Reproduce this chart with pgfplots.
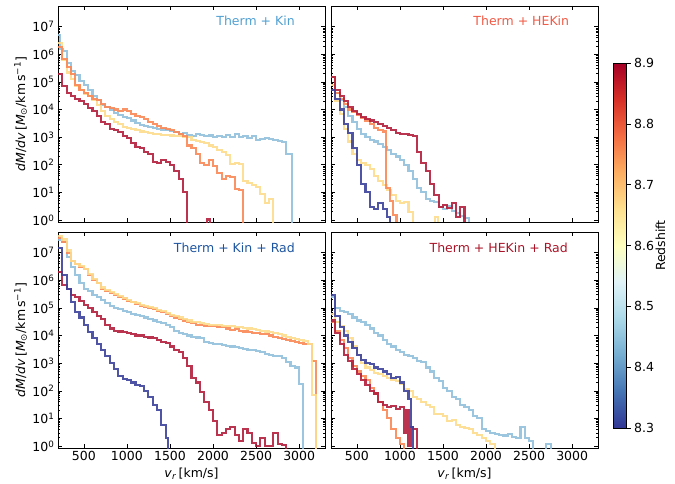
\documentclass[border=0pt]{standalone}
\usepackage{fontspec}
\setmainfont{DejaVu Sans}
\usepackage{pgfplots}
\pgfplotsset{compat=1.18}

\definecolor{zA}{RGB}{60,65,155}
\definecolor{zB}{RGB}{145,191,219}
\definecolor{zC}{RGB}{254,220,140}
\definecolor{zD}{RGB}{250,135,85}
\definecolor{zE}{RGB}{180,30,60}
\definecolor{tA}{RGB}{80,160,210}
\definecolor{tB}{RGB}{240,90,70}
\definecolor{tC}{RGB}{30,85,160}
\definecolor{tD}{RGB}{170,20,40}

\newcommand\fs{\fontsize{12.5}{15}\selectfont}

\pgfplotsset{colormap={rdylbur}{rgb255=(49,54,149) rgb255=(69,117,180) rgb255=(116,173,209)
    rgb255=(171,217,233) rgb255=(224,243,248) rgb255=(255,255,191) rgb255=(254,224,144)
    rgb255=(253,174,97) rgb255=(244,109,67) rgb255=(215,48,39) rgb255=(165,0,38)}}
\pgfplotsset{
  scale only axis, axis line style={line width=0.9pt},
  major tick length=4pt, minor tick length=2.2pt,
  tick style={black, line width=0.6pt},
  tick label style={font=\fs}, label style={font=\fs},
  /pgf/number format/1000 sep={},
  /pgf/number format/assume math mode=true,
  hist/.style={every axis plot post/.append style={const plot, line width=2.1pt, opacity=0.9}},
}

\begin{document}
\begin{tikzpicture}
\useasboundingbox (0,0) rectangle (675pt,483pt);

% top left
\begin{axis}[hist, at={(58pt,261pt)}, anchor=south west, width=267pt, height=216pt,
  xmin=200, xmax=3300, ymode=log, ymin=0.85, ymax=5.6e7,
  xtick={500,1000,1500,2000,2500,3000}, xticklabels={},
  ytick={1,10,100,1000,10000,100000,1000000,10000000},
  yticklabel={10\textsuperscript{\pgfmathparse{int(round(\tick/2.302585))}\pgfmathresult}},
  tick align=inside, xtick pos=both, ytick pos=both,
  ylabel={\textit{dM}/\textit{dv}\,[\textit{M}\textsubscript{⊙}/km\,s\textsuperscript{−1}]},
  ylabel style={at={(axis description cs:-0.14,0.5)}, anchor=center}]
\addplot[zB] coordinates {(200,5e6)(220,1.5e6)(260,1.3e6)(300,5e5)(350,2.5e5)(400,1.8e5)(450,1.1e5)(500,8e4)(550,5e4)(600,3e4)(650,2.2e4)(700,1.5e4)(750,1.2e4)(800,1e4)(850,7.5e3)(900,6.5e3)(950,5.5e3)(1000,4.8e3)(1050,4e3)(1100,3.3e3)(1150,2.8e3)(1200,2.5e3)(1250,2.3e3)(1300,2.1e3)(1350,2e3)(1400,1.9e3)(1450,1.8e3)(1500,1.7e3)(1550,1.5e3)(1600,1.3e3)(1650,1.4e3)(1700,1.2e3)(1750,1.1e3)(1800,1.3e3)(1850,1.2e3)(1900,1.1e3)(1950,1.15e3)(2000,1.05e3)(2050,1.1e3)(2100,1e3)(2150,1.2e3)(2200,1.05e3)(2250,1.3e3)(2300,1e3)(2350,1.1e3)(2400,9.5e2)(2450,1.1e3)(2500,8e2)(2550,8.5e2)(2600,9e2)(2650,8.5e2)(2700,8e2)(2750,7.5e2)(2800,6.5e2)(2850,2.5e2)(2920,0.01)};
\addplot[zC] coordinates {(200,2.5e6)(250,6e5)(300,2.2e5)(350,1.3e5)(400,7e4)(450,5e4)(500,3.8e4)(550,3e4)(600,2.2e4)(650,1.5e4)(700,9e3)(750,6e3)(800,4.5e3)(850,3.5e3)(900,3e3)(950,2.4e3)(1000,2.2e3)(1050,2e3)(1100,1.8e3)(1150,1.6e3)(1200,1.5e3)(1250,1.4e3)(1300,1.3e3)(1350,1.3e3)(1400,1.2e3)(1450,1.2e3)(1500,1.15e3)(1550,1.1e3)(1600,1.1e3)(1650,1.05e3)(1700,1e3)(1750,8e2)(1800,7.5e2)(1850,6.5e2)(1900,6e2)(1950,5e2)(2000,4.5e2)(2050,3.5e2)(2100,2.8e2)(2150,2.2e2)(2200,1.1e2)(2250,1.2e2)(2300,1.1e2)(2350,2.5e1)(2400,2.2e1)(2450,1.8e1)(2500,1.6e1)(2550,9)(2600,4)(2650,6)(2700,0.01)};
\addplot[zD] coordinates {(200,1.8e6)(250,7e5)(300,3.5e5)(350,2e5)(400,8e4)(450,5e4)(500,4e4)(550,3e4)(600,2.5e4)(650,2.2e4)(700,1.6e4)(750,1.2e4)(800,1.1e4)(850,1e4)(900,9e3)(950,1e4)(1000,9e3)(1050,7e3)(1100,6e3)(1150,5.5e3)(1200,4.5e3)(1250,3.5e3)(1300,3e3)(1350,2.5e3)(1400,2.2e3)(1450,2e3)(1500,1.8e3)(1550,1.5e3)(1600,1.3e3)(1650,1.1e3)(1700,5e2)(1750,4e2)(1800,2.5e2)(1850,1.2e2)(1900,1e2)(1950,1.5e2)(2000,9e1)(2050,5e1)(2100,3e1)(2150,4e1)(2200,3.5e1)(2250,1.3e1)(2300,1.2e1)(2350,0.01)};
\addplot[zE] coordinates {(200,2e5)(250,7e4)(300,4e4)(350,3e4)(400,2.5e4)(450,2e4)(500,1.6e4)(550,1.1e4)(600,9e3)(650,6e3)(700,3.5e3)(750,3e3)(800,2e3)(850,1.8e3)(900,1.5e3)(950,1.1e3)(1000,9e2)(1050,6e2)(1100,4.5e2)(1150,4.2e2)(1200,3e2)(1250,2.5e2)(1300,1.3e2)(1350,1.2e2)(1400,1.5e2)(1450,1.3e2)(1500,1e2)(1550,6e1)(1600,3e1)(1650,1e1)(1700,0.01)(1925,1.05)(1960,0.01)};
\node[anchor=east, text=tA, font=\fs] at (rel axis cs:0.9,0.93) {Therm + Kin};
\end{axis}

% top right
\begin{axis}[hist, at={(331pt,261pt)}, anchor=south west, width=267pt, height=216pt,
  xmin=200, xmax=3300, ymode=log, ymin=0.85, ymax=5.6e7,
  xtick={500,1000,1500,2000,2500,3000}, xticklabels={},
  ytick={1,10,100,1000,10000,100000,1000000,10000000}, yticklabels={},
  tick align=inside, xtick pos=both, ytick pos=both]
\addplot[zB] coordinates {(200,8e4)(250,4e4)(300,2.2e4)(350,1.2e4)(400,6e3)(450,3.5e3)(500,2e3)(550,1.3e3)(600,1e3)(650,8e2)(700,7e2)(750,5.5e2)(800,4.5e2)(850,3.5e2)(900,2.5e2)(950,2e2)(1000,1.5e2)(1050,1e2)(1100,6e1)(1150,3e1)(1200,1.5e1)(1250,1e1)(1300,6)(1350,5)(1400,4.5)(1450,3)(1500,2.5)(1550,3.2)(1600,2.2)(1650,1.8)(1700,1.4)(1750,1.2)(1800,0.01)};
\addplot[zC] coordinates {(200,8e4)(250,2e4)(300,7e3)(350,2e3)(400,7e2)(450,2.5e2)(500,1.5e2)(550,1.2e2)(600,1e2)(650,7e1)(700,4e1)(750,2.5e1)(800,1.8e1)(850,1.2e1)(900,8)(950,5)(1000,4)(1050,4.5)(1100,2)(1150,0.01)(1400,0.01)(1410,1.3)(1440,0.01)};
\addplot[zD] coordinates {(200,1.5e5)(250,4e4)(300,2.5e4)(350,1.6e4)(400,1e4)(450,8e3)(500,6.5e3)(550,5e3)(600,4e3)(650,3e3)(700,2.2e3)(750,1.8e3)(800,1.6e3)(840,1.5e1)(880,5)(920,1.5)(960,0.01)};
\addplot[zE] coordinates {(200,1.5e5)(250,5e4)(300,3e4)(350,2e4)(400,1.2e4)(450,9e3)(500,7e3)(550,5.5e3)(600,4.5e3)(650,4e3)(700,3.5e3)(750,3e3)(800,2.5e3)(850,2.2e3)(900,1.8e3)(950,1.4e3)(1000,1.3e3)(1050,1.3e3)(1100,1.2e3)(1150,1.1e3)(1200,3e2)(1250,1.2e2)(1300,6e1)(1350,2e1)(1400,8)(1450,3)(1500,3.5)(1550,2.8)(1600,4)(1650,1.3)(1700,3)(1750,0.01)};
\addplot[zA] coordinates {(200,5e4)(250,2.5e4)(300,1e4)(350,3e3)(400,1.4e3)(450,4e2)(500,1e2)(550,2e1)(600,1e1)(650,3)(700,2.5)(750,4)(800,2.5)(850,1.3)(890,0.01)};
\node[anchor=east, text=tB, font=\fs] at (rel axis cs:0.905,0.93) {Therm + HEKin};
\end{axis}

% bottom left
\begin{axis}[hist, at={(58pt,35pt)}, anchor=south west, width=267pt, height=216pt,
  xmin=200, xmax=3300, ymode=log, ymin=0.85, ymax=5.6e7,
  xtick={500,1000,1500,2000,2500,3000},
  ytick={1,10,100,1000,10000,100000,1000000,10000000},
  yticklabel={10\textsuperscript{\pgfmathparse{int(round(\tick/2.302585))}\pgfmathresult}},
  tick align=inside, xtick pos=both, ytick pos=both,
  xticklabel pos=bottom,
  ylabel={\textit{dM}/\textit{dv}\,[\textit{M}\textsubscript{⊙}/km\,s\textsuperscript{−1}]},
  ylabel style={at={(axis description cs:-0.14,0.5)}, anchor=center},
  xlabel={\textit{v}\textsubscript{\textit{r}}\,[km/s]}]
\addplot[zB] coordinates {(200,3e7)(250,2.5e7)(300,7e6)(350,3e6)(400,1.6e6)(450,8e5)(500,5e5)(550,4e5)(600,3e5)(650,2.5e5)(700,2e5)(750,1.5e5)(800,1.2e5)(850,1e5)(900,9e4)(950,8e4)(1000,7e4)(1050,6e4)(1100,5.5e4)(1150,5e4)(1200,4.5e4)(1250,4e4)(1300,3.5e4)(1350,3e4)(1400,2.8e4)(1450,2.5e4)(1500,2e4)(1550,1.5e4)(1600,1.2e4)(1650,1.1e4)(1700,1e4)(1750,9e3)(1800,8.5e3)(1850,8e3)(1900,6e3)(1950,5.5e3)(2000,5e3)(2050,5e3)(2100,4.5e3)(2150,4.2e3)(2200,4e3)(2250,3.8e3)(2300,3.5e3)(2350,3.2e3)(2400,3e3)(2450,3e3)(2500,2.8e3)(2550,2.5e3)(2600,2.2e3)(2650,2e3)(2700,1.8e3)(2750,1.8e3)(2800,1.5e3)(2850,1.1e3)(2900,8e2)(2950,7e2)(3000,1.7e2)(3040,0.01)};
\addplot[zD] coordinates {(200,3.5e7)(250,2.5e7)(300,1e7)(350,5e6)(400,4e6)(450,3e6)(500,2.5e6)(550,1.5e6)(600,1e6)(650,8e5)(700,5e5)(750,4e5)(800,3.5e5)(850,3e5)(900,2.5e5)(950,2.2e5)(1000,1.8e5)(1050,1.6e5)(1100,1.4e5)(1150,1.2e5)(1200,1.1e5)(1250,1e5)(1300,9e4)(1350,8e4)(1400,7e4)(1450,6e4)(1500,5e4)(1550,4.5e4)(1600,4e4)(1650,3.5e4)(1700,3e4)(1750,2.8e4)(1800,2.5e4)(1850,2.4e4)(1900,2.3e4)(1950,2.2e4)(2000,2.2e4)(2050,2.1e4)(2100,2e4)(2150,1.8e4)(2200,1.6e4)(2250,1.8e4)(2300,1.5e4)(2350,1.4e4)(2400,1.3e4)(2450,1.2e4)(2500,1.2e4)(2550,1.1e4)(2600,1.1e4)(2650,1e4)(2700,9e3)(2750,8e3)(2800,7.5e3)(2850,7e3)(2900,6.5e3)(2950,6e3)(3000,5.5e3)(3050,5e3)(3100,5e3)(3150,1.2e3)(3200,0.01)};
\addplot[zC] coordinates {(200,4e7)(250,3e7)(300,1.2e7)(350,5e6)(400,4e6)(450,3.2e6)(500,2.6e6)(550,1.7e6)(600,1.1e6)(650,8e5)(700,5.5e5)(750,4.5e5)(800,3.8e5)(850,3.2e5)(900,2.7e5)(950,2.3e5)(1000,1.9e5)(1050,1.7e5)(1100,1.5e5)(1150,1.3e5)(1200,1.2e5)(1250,1.1e5)(1300,1e5)(1350,8.5e4)(1400,7.5e4)(1450,6.5e4)(1500,5.5e4)(1550,5e4)(1600,4.5e4)(1650,4e4)(1700,3.5e4)(1750,3.2e4)(1800,3e4)(1850,2.8e4)(1900,2.6e4)(1950,2.5e4)(2000,2.5e4)(2050,2.4e4)(2100,2.3e4)(2150,2.2e4)(2200,2.2e4)(2250,2.1e4)(2300,2e4)(2350,1.9e4)(2400,1.8e4)(2450,1.7e4)(2500,1.6e4)(2550,1.5e4)(2600,1.4e4)(2650,1.3e4)(2700,1.2e4)(2750,1.1e4)(2800,1e4)(2850,9e3)(2900,8e3)(2950,7.5e3)(3000,7e3)(3050,6.5e3)(3100,5e3)(3150,7e1)(3200,0.01)};
\addplot[zE] coordinates {(200,2e6)(250,7e5)(300,5e5)(350,3e5)(400,2.5e5)(450,1.8e5)(500,1.3e5)(550,1e5)(600,7e4)(650,5e4)(700,4e4)(750,2.5e4)(800,1.8e4)(850,1.5e4)(900,1.4e4)(950,1.3e4)(1000,1.2e4)(1050,1.1e4)(1100,1e4)(1150,1e4)(1200,9e3)(1250,8.5e3)(1300,8e3)(1350,7e3)(1400,6e3)(1450,5.5e3)(1500,4e3)(1550,3e3)(1600,2.5e3)(1650,1.5e3)(1700,8e2)(1750,2.8e2)(1800,2e2)(1850,9e1)(1900,4e1)(1950,2e1)(2000,8)(2050,2.5)(2100,3)(2150,4)(2200,5)(2250,2.5)(2300,1.5)(2350,4)(2400,3)(2450,1.3)(2500,1)(2550,2)(2600,1)(2650,1)(2700,3)(2750,1.2)(2800,1.1)(2850,0.01)};
\addplot[zA] coordinates {(200,1.5e7)(250,1.5e6)(300,5e5)(350,1.7e5)(400,7e4)(450,4.5e4)(500,2.5e4)(550,1.3e4)(600,8e3)(650,5e3)(700,3e3)(750,1.8e3)(800,1e3)(850,6e2)(900,3.5e2)(950,2.6e2)(1000,2.4e2)(1050,2e2)(1100,1.6e2)(1150,1.5e2)(1200,1e2)(1250,6e1)(1300,3e1)(1350,2e1)(1400,6)(1450,2)(1480,0.01)};
\node[anchor=east, text=tC, font=\fs] at (rel axis cs:0.9,0.925) {Therm + Kin + Rad};
\end{axis}

% bottom right
\begin{axis}[hist, at={(331pt,35pt)}, anchor=south west, width=267pt, height=216pt,
  xmin=200, xmax=3300, ymode=log, ymin=0.85, ymax=5.6e7,
  xtick={500,1000,1500,2000,2500,3000},
  ytick={1,10,100,1000,10000,100000,1000000,10000000}, yticklabels={},
  tick align=inside, xtick pos=both, ytick pos=both, xticklabel pos=bottom,
  xlabel={\textit{v}\textsubscript{\textit{r}}\,[km/s]}]
\addplot[zB] coordinates {(200,2.5e5)(250,1e5)(300,8e4)(350,7e4)(400,6e4)(450,4.5e4)(500,3.5e4)(550,3e4)(600,2.5e4)(650,1.8e4)(700,1.2e4)(750,1e4)(800,7e3)(850,5e3)(900,4e3)(950,3e3)(1000,2.5e3)(1050,2e3)(1100,1.8e3)(1150,1.5e3)(1200,1.2e3)(1250,1.1e3)(1300,7e2)(1350,5e2)(1400,3e2)(1450,2.2e2)(1500,1.3e2)(1550,1e2)(1600,6e1)(1650,5e1)(1700,3e1)(1750,2.5e1)(1800,2e1)(1850,1.2e1)(1900,1e1)(1950,4)(2000,3.5)(2050,3)(2100,2.8)(2150,2.5)(2200,2.4)(2250,2.8)(2300,2.2)(2350,2)(2400,5)(2450,2)(2500,1.5)(2550,0.01)(2650,0.01)(2700,1.2)(2750,0.01)};
\addplot[zC] coordinates {(200,6e4)(250,3e4)(300,2.2e4)(350,1.5e4)(400,8e3)(450,4e3)(500,2e3)(550,1e3)(600,7e2)(650,5.5e2)(700,4.5e2)(750,4e2)(800,3.5e2)(850,3e2)(900,2.5e2)(950,2.2e2)(1000,1.8e2)(1050,1.2e2)(1100,1e2)(1150,6e1)(1200,5e1)(1250,4e1)(1300,3e1)(1350,2.5e1)(1400,1.5e1)(1450,1.4e1)(1500,1.2e1)(1550,8)(1600,9)(1650,6)(1700,5)(1750,4.5)(1800,4)(1850,3)(1900,2.5)(1950,2)(2000,1.5)(2050,1.2)(2100,0.01)};
\addplot[zD] coordinates {(200,3e4)(250,1.5e4)(300,7e3)(350,3.5e3)(400,1.5e3)(450,8e2)(500,5e2)(550,3.5e2)(600,2.5e2)(650,1.3e2)(700,8e1)(750,4e1)(800,2e1)(850,1e1)(900,4)(950,2)(1000,1.2)(1050,0.01)};
\addplot[zE] coordinates {(200,3.5e4)(250,1.2e4)(300,5e3)(350,2e3)(400,1.2e3)(450,6e2)(500,4e2)(550,2.5e2)(600,1.6e2)(650,1e2)(700,8e1)(750,4e1)(800,3e1)(850,2.5e1)(900,2.8e1)(950,2.2e1)(1000,2.5e1)(1050,3)(1075,20)(1100,1)(1125,5)(1150,4)(1200,0.01)};
\addplot[zA] coordinates {(200,3e5)(250,5e4)(300,2e4)(350,1e4)(400,6e3)(450,3.5e3)(500,2e3)(550,1.3e3)(600,1e3)(650,9e2)(700,7e2)(750,6e2)(800,5e2)(850,4e2)(900,3e2)(950,3.2e2)(1000,2e2)(1050,1e2)(1100,5e1)(1125,5)(1150,0.01)};
\node[anchor=east, text=tD, font=\fs] at (rel axis cs:0.9,0.925) {Therm + HEKin + Rad};
\end{axis}

% colour bar
\begin{axis}[at={(604pt,55pt)}, anchor=south west, width=1pt, height=365pt,
  hide axis, xmin=0, xmax=1, ymin=0, ymax=1,
  colormap name=rdylbur, point meta min=8.3, point meta max=8.9, colorbar,
  colorbar style={at={(parent axis.south east)}, anchor=south west, xshift=0pt,
    width=13pt, height=365pt,
    ytick={8.3,8.4,8.5,8.6,8.7,8.8,8.9},
    yticklabel style={font=\fs, /pgf/number format/.cd, fixed, fixed zerofill, precision=1, assume math mode=true},
    tick align=outside, ytick pos=right, major tick length=4pt,
    ylabel={Redshift}, ylabel style={font=\fs, at={(axis description cs:3.6,0.5)}, anchor=center}}]
\addplot[draw=none] coordinates {(0,0)};
\end{axis}
\end{tikzpicture}
\end{document}
